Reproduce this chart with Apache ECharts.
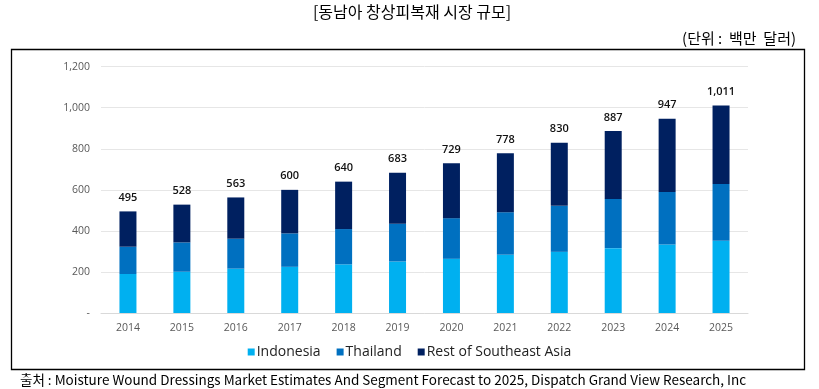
<!DOCTYPE html>
<html><head><meta charset="utf-8">
<script src="https://cdn.jsdelivr.net/npm/echarts@6/dist/echarts.min.js"></script>
<style>html,body{margin:0;padding:0;background:#fff}#c{width:819px;height:389px}</style>
</head><body><div id="c"></div>
<script>
const categories = ['2014','2015','2016','2017','2018','2019','2020','2021','2022','2023','2024','2025'];
const indonesia = [190,201,216,225,237,251,264,284,298,316,334,352];
const thailand  = [133,143,146,163,172,184,198,207,224,240,255,276];
const rest      = [172,184,201,212,231,248,267,287,308,331,358,383];
const totals    = [495,528,563,600,640,683,729,778,830,887,947,1011];

const chart = echarts.init(document.getElementById('c'), null, {renderer:'canvas'});
const fmt = v => v === 0 ? '-' : v.toLocaleString('en-US');
const font = '"Noto Sans CJK KR","Noto Sans",sans-serif';
chart.setOption({
  animation:false,
  textStyle:{fontFamily:font},
  graphic:[
    {type:'rect', shape:{x:11.5,y:49.5,width:793,height:320}, style:{fill:'none',stroke:'#000',lineWidth:1.3}, z:0},
    {type:'text', x:412, y:12, style:{text:'[동남아 창상피복재 시장 규모]', font:'16px '+font, fill:'#000', align:'center', verticalAlign:'middle'}},
    {type:'text', x:796, y:38, style:{text:'(단위 :  백만  달러)', font:'15px '+font, fill:'#000', align:'right', verticalAlign:'middle'}},
    {type:'text', x:20, y:380, style:{text:'출처 : Moisture Wound Dressings Market Estimates And Segment Forecast to 2025, Dispatch Grand View Research, Inc', font:'13.5px '+font, fill:'#000', align:'left', verticalAlign:'middle'}}
  ],
  legend:{
    data:['Indonesia','Thailand','Rest of Southeast Asia'],
    bottom:25, left:'center', itemWidth:7, itemHeight:7, itemGap:16,
    icon:'rect',
    textStyle:{fontSize:14, color:'#222', fontFamily:'"Open Sans",sans-serif', padding:[0,0,0,-3]}
  },
  grid:{left:101, right:71, top:66.7, bottom:76},
  xAxis:{
    type:'category', data:categories,
    axisLine:{lineStyle:{color:'#d9d9d9'}}, axisTick:{show:false},
    axisLabel:{color:'#595959', fontSize:10.5, margin:10, fontFamily:'"Open Sans",sans-serif'}
  },
  yAxis:{
    type:'value', min:0, max:1200, interval:200,
    axisLine:{show:false}, axisTick:{show:false},
    splitLine:{lineStyle:{color:'#e6e6e6'}},
    axisLabel:{color:'#595959', fontSize:10.5, margin:11, fontFamily:'"Open Sans",sans-serif', formatter:fmt}
  },
  series:[
    {name:'Indonesia', type:'bar', stack:'a', data:indonesia, barWidth:17, itemStyle:{color:'#00B0F0'}},
    {name:'Thailand', type:'bar', stack:'a', data:thailand, itemStyle:{color:'#0070C0'}},
    {name:'Rest of Southeast Asia', type:'bar', stack:'a', data:rest, itemStyle:{color:'#002060'},
     label:{show:true, position:'top', distance:8, color:'#111', fontSize:11, fontWeight:600, fontFamily:'"Open Sans",sans-serif',
       formatter:p=>totals[p.dataIndex].toLocaleString('en-US')}}
  ]
});
</script></body></html>
